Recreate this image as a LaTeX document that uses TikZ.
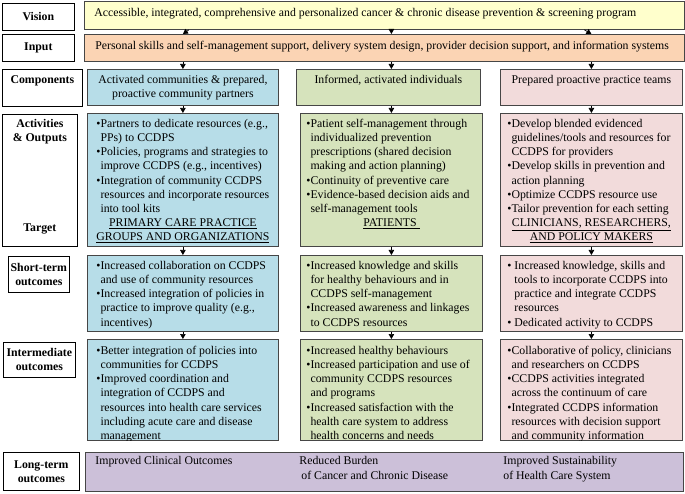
\documentclass[tikz,border=0pt]{standalone}
\usepackage{fontspec}
\setmainfont{Liberation Serif}
\usetikzlibrary{arrows.meta,calc,positioning}
\definecolor{visY}{RGB}{255,255,204}
\definecolor{inpO}{RGB}{251,212,180}
\definecolor{colB}{RGB}{183,221,232}
\definecolor{colG}{RGB}{214,227,188}
\definecolor{colP}{RGB}{242,219,219}
\definecolor{ltP}{RGB}{204,192,217}
\definecolor{edge}{RGB}{70,70,70}
\newlength{\bw}
% cell body: [top pad]{width}{height}{left pad}{text}
\newcommand{\cell}[5][5]{\begin{minipage}[t][#3pt][t]{#2pt}\vspace*{#1pt}\leftskip=#4pt\relax\rightskip=-4pt plus 1fil\relax #5\end{minipage}}
\newcommand{\itm}{\par\settowidth{\bw}{\textbullet}\hangindent=\bw\hangafter=1\strut\textbullet}
\newcommand{\itms}{\par\settowidth{\bw}{\textbullet\ }\hangindent=\bw\hangafter=1\strut\textbullet\ }
\tikzset{
    arr/.style={-{Triangle[length=5pt,width=5.5pt]},line width=0.7pt},
    lab/.style={draw=black,fill=white,line width=0.7pt,anchor=north west,inner sep=0pt,
        align=center,font=\fontsize{11.8}{14.2}\selectfont\bfseries},
    cell/.style={draw=edge,line width=0.8pt,anchor=north west,inner sep=0pt,
        font=\fontsize{11.8}{14.2}\selectfont},
}
\begin{document}
\begin{tikzpicture}[x=1pt,y=-1pt]
    \useasboundingbox (0,0) rectangle (685,494);
    % row labels
    \node[lab,minimum width=72,minimum height=27] (lv) at (2,3) {Vision};
    \node[lab,minimum width=72,minimum height=27] (li) at (2,34) {Input};
    \node[lab] (lc) at (2,69) {\cell[4]{80}{37}{0}{{\centering\strut Components\par}}};
    \node[lab] (la) at (2,114) {\cell[3]{75}{132}{0}{{\centering\strut Activities\\ \& Outputs\par}\vfill{\centering Target\par}\vspace{12pt}}};
    \node[lab,minimum width=61,minimum height=36] (ls) at (8,256) {Short-term\\ outcomes};
    \node[lab,minimum width=72,minimum height=35] (lm) at (3,342) {Intermediate\\ outcomes};
    \node[lab,minimum width=76,minimum height=38] (ll) at (3,452) {Long-term\\ outcomes};

    % vision and input
    \node[cell,fill=visY] (vis) at (84,1) {\cell[5]{600}{28}{10}{\strut Accessible, integrated, comprehensive and personalized cancer \& chronic disease prevention \& screening program}};
    \node[cell,fill=inpO] (inp) at (84,34) {\cell[5]{600}{27}{11}{\strut Personal skills and self-management support, delivery system design, provider decision support, and information systems}};

    % components
    \node[cell,fill=colB] (c1) at (87,69) {\cell[4]{191}{36}{0}{{\centering\strut Activated communities \& prepared,\\ proactive community partners\par}}};
    \node[cell,fill=colG] (c2) at (296,69) {\cell[4]{184}{36}{0}{{\centering\strut Informed, activated individuals\par}}};
    \node[cell,fill=colP] (c3) at (500,69) {\cell[4]{182}{36}{0}{{\centering\strut Prepared proactive practice teams\par}}};

    % activities & outputs, target
    \node[cell,fill=colB] (a1) at (87,113) {\cell[4]{191}{133}{9}{%
        \itm Partners to dedicate resources (e.g.,\\ PPs) to CCDPS
        \itm Policies, programs and strategies to\\ improve CCDPS (e.g., incentives)
        \itm Integration of community CCDPS\\ resources and incorporate resources\\ into tool kits
        \par{\centering\underline{PRIMARY CARE PRACTICE}\\ \underline{GROUPS AND ORGANIZATIONS}\par}}};
    \node[cell,fill=colG] (a2) at (300,113) {\cell[4]{182}{133}{6}{%
        \itm Patient self-management through\\ individualized prevention\\ prescriptions (shared decision\\ making and action planning)
        \itm Continuity of preventive care
        \itm Evidence-based decision aids and\\ self-management tools
        \par{\centering\underline{PATIENTS\ }\par}}};
    \node[cell,fill=colP] (a3) at (500,113) {\cell[4]{182}{133}{7}{%
        \itm Develop blended evidenced\\ guidelines/tools and resources for\\ CCDPS for providers
        \itm Develop skills in prevention and\\ action planning
        \itm Optimize CCDPS resource use
        \itm Tailor prevention for each setting
        \par{\centering\underline{CLINICIANS, RESEARCHERS,}\\ \underline{AND POLICY MAKERS}\par}}};

    % short-term outcomes
    \node[cell,fill=colB] (s1) at (87,255) {\cell[4]{191}{76}{9}{%
        \itm Increased collaboration on CCDPS\\ and use of community resources
        \itm Increased integration of policies in\\ practice to improve quality (e.g.,\\ incentives)}};
    \node[cell,fill=colG] (s2) at (300,255) {\cell[4]{182}{76}{6}{%
        \itm Increased knowledge and skills\\ for healthy behaviours and in\\ CCDPS self-management
        \itm Increased awareness and linkages\\ to CCDPS resources}};
    \node[cell,fill=colP] (s3) at (500,255) {\cell[4]{182}{76}{7}{%
        \itms Increased knowledge, skills and\\ tools to incorporate CCDPS into\\ practice and integrate CCDPS\\ resources
        \itms Dedicated activity to CCDPS}};

    % intermediate outcomes (last lines cut by the box edge)
    \begin{scope}
    \clip (80,330) rectangle (690,440.5);
    \node[cell,fill=colB] (i1) at (87,339) {\cell[5]{191}{101}{9}{%
        \itm Better integration of policies into\\ communities for CCDPS
        \itm Improved coordination and\\ integration of CCDPS and\\ resources into health care services\\ including acute care and disease\\ management}};
    \node[cell,fill=colG] (i2) at (300,339) {\cell[5]{182}{101}{6}{%
        \itm Increased healthy behaviours
        \itm Increased participation and use of\\ community CCDPS resources\\ and programs
        \itm Increased satisfaction with the\\ health care system to address\\ health concerns and needs}};
    \node[cell,fill=colP] (i3) at (500,339) {\cell[5]{182}{101}{7}{%
        \itm Collaborative of policy, clinicians\\ and researchers on CCDPS
        \itm CCDPS activities integrated\\ across the continuum of care
        \itm Integrated CCDPS information\\ resources with decision support\\ and community information}};
    \end{scope}

    % long-term outcomes
    \node[cell,fill=ltP] (lt) at (85,452) {\cell[2.5]{598}{39}{10}{\strut
        \makebox[204pt][l]{Improved Clinical Outcomes}\makebox[204pt][l]{Reduced Burden}Improved Sustainability\\
        \makebox[204pt][l]{}\makebox[204pt][l]{\hspace{2pt}of Cancer and Chronic Disease}of Health Care System}};

    % arrows
    \draw[arr] ($(vis.south -| a1)+(6,0)$) -- (inp.north -| a1);
    \draw[arr] (vis.south -| a2) -- (inp.north -| a2);
    \draw[arr] ($(vis.south -| a3)+(-7,0)$) -- (inp.north -| a3);
    \draw[arr] (inp.south -| c1) -- (c1);
    \draw[arr] (inp.south -| a2) -- (c2.north -| a2);
    \draw[arr] (inp.south -| c3) -- (c3);
    \draw[arr] (c2.south -| a2) -- (a2);
    \foreach \u/\v in {c1/a1,a1/s1,s1/i1,a2/s2,s2/i2,c3/a3,a3/s3,s3/i3}
        \draw[arr] (\u) -- (\v);
\end{tikzpicture}
\end{document}
